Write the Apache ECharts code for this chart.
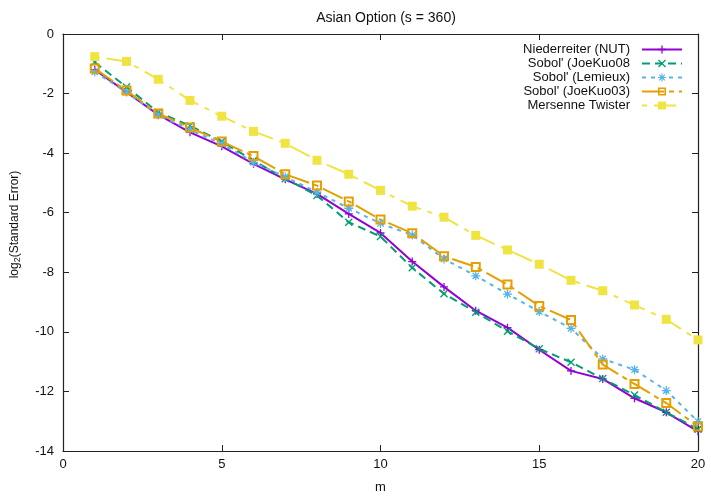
<!DOCTYPE html>
<html>
<head>
<meta charset="utf-8">
<script src="https://cdn.jsdelivr.net/npm/echarts@6/dist/echarts.min.js"></script>
<style>html,body{margin:0;padding:0;background:#fff}#c{width:711px;height:499px}</style>
</head>
<body>
<div id="c"></div>
<script>
const mValues = [1,2,3,4,5,6,7,8,9,10,11,12,13,14,15,16,17,18,19,20];
const niederreiter = [-1.20,-1.95,-2.71,-3.30,-3.77,-4.36,-4.88,-5.37,-6.04,-6.68,-7.64,-8.49,-9.29,-9.86,-10.60,-11.31,-11.58,-12.23,-12.70,-13.34];
const joeKuo08 = [-0.95,-1.78,-2.63,-3.08,-3.61,-4.25,-4.86,-5.42,-6.32,-6.80,-7.85,-8.72,-9.34,-9.98,-10.57,-11.02,-11.57,-12.12,-12.70,-13.27];
const lemieux = [-1.27,-1.95,-2.72,-3.22,-3.69,-4.31,-4.80,-5.31,-5.85,-6.36,-6.75,-7.55,-8.12,-8.73,-9.32,-9.88,-10.91,-11.27,-11.97,-13.01];
const joeKuo03 = [-1.16,-1.90,-2.67,-3.14,-3.61,-4.10,-4.71,-5.09,-5.62,-6.23,-6.69,-7.46,-7.82,-8.41,-9.13,-9.60,-11.10,-11.75,-12.39,-13.18];
const mersenne = [-0.76,-0.92,-1.52,-2.23,-2.76,-3.27,-3.67,-4.24,-4.71,-5.25,-5.78,-6.15,-6.76,-7.25,-7.73,-8.27,-8.62,-9.10,-9.58,-10.27];
const seriesNames = ["Niederreiter (NUT)","Sobol' (JoeKuo08","Sobol' (Lemieux)","Sobol' (JoeKuo03)","Mersenne Twister"];

const FONT = '"Liberation Sans", Arial, sans-serif';
const pair = arr => arr.map((v,i) => [mValues[i], v]);

const PLUS = 'path://M4.2,0H5.8V10H4.2ZM0,4.2H10V5.8H0Z';
const CROSS = 'path://M0,1.2L1.2,0L5,3.8L8.8,0L10,1.2L6.2,5L10,8.8L8.8,10L5,6.2L1.2,10L0,8.8L3.8,5Z';
const STAR = 'path://M4.3,0H5.7V4.3H10V5.7H5.7V10H4.3V5.7H0V4.3H4.3ZM1,2L2,1L5,4L8,1L9,2L6,5L9,8L8,9L5,6L2,9L1,8L4,5Z';
const HOLLOW = 'path://M0,0H10V10H0ZM2,2V8H8V2Z';

function mk(name, data, color, dash, symbol, size) {
  return {
    name, type: 'line', data: pair(data),
    symbol, symbolSize: size, showSymbol: true,
    lineStyle: { color, width: 2, type: dash },
    itemStyle: { color, borderWidth: 0 },
    emphasis: { disabled: true },
    animation: false
  };
}

const axisCommon = {
  axisLine: { show: true, onZero: false, lineStyle: { color: '#222', width: 1.2 } },
  axisTick: { show: true, inside: true, length: 6, lineStyle: { color: '#222', width: 1 } },
  splitLine: { show: false },
  axisLabel: { color: '#111', fontSize: 13, fontFamily: FONT }
};

const chart = echarts.init(document.getElementById('c'), null, { renderer: 'canvas' });
chart.setOption({
  backgroundColor: '#fff',
  animation: false,
  title: {
    text: 'Asian Option (s = 360)', left: 381, top: 6, textAlign: 'center',
    textStyle: { fontSize: 14, fontWeight: 'normal', color: '#111', fontFamily: FONT }
  },
  grid: { left: 63, right: 13, top: 34, bottom: 47 },
  legend: {
    orient: 'vertical', right: 23, top: 38, align: 'right',
    itemWidth: 40, itemHeight: 10, itemGap: 1,
    data: seriesNames,
    textStyle: { fontSize: 13, color: '#111', fontFamily: FONT, width: 160, align: 'right', padding: [0, 7, 0, 0] }
  },
  xAxis: [
    Object.assign({}, axisCommon, {
      type: 'value', min: 0, max: 20, interval: 5, position: 'bottom',
      name: 'm', nameLocation: 'middle', nameGap: 30,
      nameTextStyle: { fontSize: 13, color: '#111', fontFamily: FONT },
      axisLabel: Object.assign({}, axisCommon.axisLabel, { margin: 7 })
    }),
    Object.assign({}, axisCommon, {
      type: 'value', min: 0, max: 20, interval: 5, position: 'top',
      axisLabel: { show: false }
    })
  ],
  yAxis: [
    Object.assign({}, axisCommon, {
      type: 'value', min: -14, max: 0, interval: 2, position: 'left',
      name: 'log{sub|2}(Standard Error)', nameLocation: 'middle', nameGap: 41, nameRotate: 90,
      nameTextStyle: {
        fontSize: 12, color: '#111', fontFamily: FONT, padding: [0, 0, 0, 36],
        rich: { sub: { fontSize: 9, verticalAlign: 'bottom', color: '#111', fontFamily: FONT, padding: [6,0,0,0] } }
      },
      axisLabel: Object.assign({}, axisCommon.axisLabel, { margin: 9 })
    }),
    Object.assign({}, axisCommon, {
      type: 'value', min: -14, max: 0, interval: 2, position: 'right',
      axisLabel: { show: false }
    })
  ],
  series: [
    mk(seriesNames[0], niederreiter, '#9400d3', 'solid', PLUS, 8),
    mk(seriesNames[1], joeKuo08, '#009e73', [8,5], CROSS, 8),
    mk(seriesNames[2], lemieux, '#56b4e9', [4,5], STAR, 9),
    mk(seriesNames[3], joeKuo03, '#e69f00', [22,5,5,5], HOLLOW, 10),
    mk(seriesNames[4], mersenne, '#f0e442', [5,7,22,7], 'rect', 9)
  ]
});
</script>
</body>
</html>
